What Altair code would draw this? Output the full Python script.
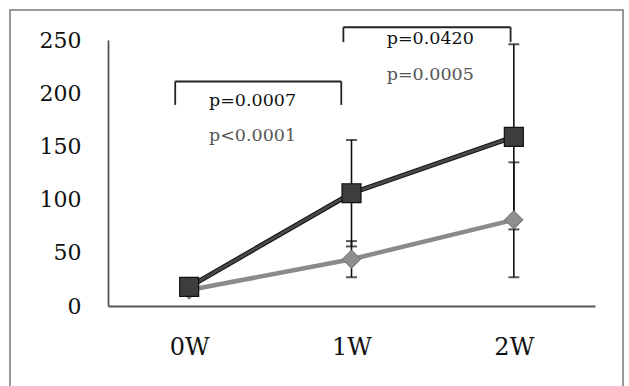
import altair as alt
import pandas as pd

# ---- data ----
weeks = ["0W", "1W", "2W"]
xpos = [0, 1, 2]

dark_mean = [18, 106, 159]
dark_lo = [14, 56, 72]
dark_hi = [22, 156, 246]

gray_mean = [15, 44, 81]
gray_lo = [12, 27, 27]
gray_hi = [18, 61, 135]

# brackets: left x, right x, top y, bottom y (data units)
br_left = [-0.086, 0.95]
br_right = [0.937, 1.98]
br_top = [211, 262]
br_bottom = [189, 248]

# annotation texts
ann_text = ["p=0.0007", "p<0.0001", "p=0.0420", "p=0.0005"]
ann_x = [0.39, 0.39, 1.485, 1.485]
ann_y = [193, 160, 251, 217]
ann_kind = ["main", "sub", "main", "sub"]

FONT = "DejaVu Serif"

series = pd.DataFrame({
    "x": xpos * 2,
    "week": weeks * 2,
    "mean": dark_mean + gray_mean,
    "lo": dark_lo + gray_lo,
    "hi": dark_hi + gray_hi,
    "grp": ["A"] * 3 + ["B"] * 3,
})
dark = series[series.grp == "A"]
gray = series[series.grp == "B"]

segs = []
for l, r, t, b in zip(br_left, br_right, br_top, br_bottom):
    segs.append({"x": l, "x2": l, "y": b, "y2": t})
    segs.append({"x": l, "x2": r, "y": t, "y2": t})
    segs.append({"x": r, "x2": r, "y": b, "y2": t})
segs = pd.DataFrame(segs)

ann = pd.DataFrame({"text": ann_text, "x": ann_x, "y": ann_y, "kind": ann_kind})

label_expr = "[" + ",".join(f"'{w}'" for w in weeks) + "][datum.value]"

xs = alt.Scale(domain=[-0.5, 2.5], nice=False, zero=False)
ys = alt.Scale(domain=[0, 250], nice=False)

xaxis = alt.Axis(values=xpos, labelExpr=label_expr, ticks=False, grid=False,
                 title=None, labelFont=FONT, labelFontSize=24, labelColor="#111",
                 labelPadding=29, domainColor="#555", domainWidth=1.8)
yaxis = alt.Axis(values=[0, 50, 100, 150, 200, 250], ticks=False, grid=False,
                 title=None, labelFont=FONT, labelFontSize=22, labelColor="#111",
                 labelPadding=27, domainColor="#555", domainWidth=1.8)

base_x = alt.X("x:Q", scale=xs, axis=xaxis)
base_y = alt.Y("mean:Q", scale=ys, axis=yaxis)

frame = alt.Chart(pd.DataFrame({"d": [0]})).mark_rect(
    fill="transparent", stroke="#777", strokeWidth=1.5
).encode(x=alt.value(-98), x2=alt.value(515), y=alt.value(-30), y2=alt.value(370))

err_rule = alt.Chart(series).mark_rule(color="#111", strokeWidth=1.6).encode(
    x=base_x, y=alt.Y("lo:Q", scale=ys, axis=yaxis), y2="hi:Q")
cap_lo = alt.Chart(series).mark_tick(color="#111", size=11, thickness=2, orient="horizontal").encode(
    x=base_x, y=alt.Y("lo:Q", scale=ys, axis=yaxis))
cap_hi = alt.Chart(series).mark_tick(color="#111", size=11, thickness=2, orient="horizontal").encode(
    x=base_x, y=alt.Y("hi:Q", scale=ys, axis=yaxis))

gray_line = alt.Chart(gray).mark_line(color="#8a8a8a", strokeWidth=4.5).encode(x=base_x, y=base_y)
dark_line_bg = alt.Chart(dark).mark_line(color="#1a1a1a", strokeWidth=5).encode(x=base_x, y=base_y)
dark_line = alt.Chart(dark).mark_line(color="#4a4a4a", strokeWidth=2.5).encode(x=base_x, y=base_y)

gray_pts = alt.Chart(gray).mark_point(shape="diamond", filled=True, fill="#8e8e8e",
                                      stroke="#6e6e6e", strokeWidth=1, opacity=1,
                                      size=340).encode(x=base_x, y=base_y)
dark_pts = alt.Chart(dark).mark_point(shape="square", filled=True, fill="#3d3d3d",
                                      stroke="#111", strokeWidth=1.2, opacity=1,
                                      size=360).encode(x=base_x, y=base_y)

brackets = alt.Chart(segs).mark_rule(color="#222", strokeWidth=1.8).encode(
    x=alt.X("x:Q", scale=xs, axis=xaxis), x2="x2:Q",
    y=alt.Y("y:Q", scale=ys, axis=yaxis), y2="y2:Q")

texts = alt.Chart(ann).mark_text(font=FONT, fontSize=17.5, align="center", baseline="middle").encode(
    x=alt.X("x:Q", scale=xs, axis=xaxis),
    y=alt.Y("y:Q", scale=ys, axis=yaxis),
    text="text:N",
    color=alt.Color("kind:N", scale=alt.Scale(domain=["main", "sub"], range=["#111", "#555"]), legend=None),
)

chart = alt.layer(
    frame, err_rule, cap_lo, cap_hi, gray_line, dark_line_bg, dark_line,
    gray_pts, dark_pts, brackets, texts
).properties(
    width=487, height=266,
    autosize=alt.AutoSizeParams(type="none"),
    padding={"left": 108, "top": 40, "right": 34, "bottom": 80},
    background="white",
).configure_view(stroke=None)

chart.save("out.html", embed_options={"renderer": "svg", "actions": False})
